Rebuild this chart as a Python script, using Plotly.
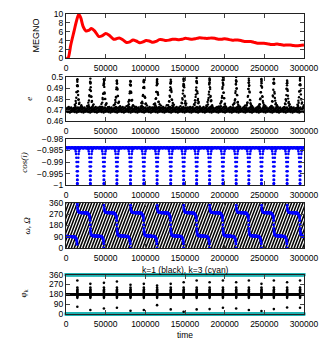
import plotly.graph_objects as go

# ---------------- data ----------------
x_ticks = [0, 50000, 100000, 150000, 200000, 250000, 300000]
x_ticklabels = ["0", "50000", "100000", "150000", "200000", "250000", "300000"]

megno_t = [0, 2500, 6000, 10000, 13500, 16000, 18500, 21500, 25000, 28500, 32000, 36000,
           41500, 46000, 50000, 54500, 60000, 63500, 67000, 71500, 76500, 80500, 84500,
           88500, 93000, 97000, 101000, 105000, 109500, 113500, 117500, 121500, 126000,
           130000, 134000, 138000, 142500, 146500, 150500, 154500, 159000, 163000, 167000,
           171000, 175500, 179500, 183500, 187500, 192000, 196000, 200000, 204000, 208500,
           212500, 216500, 220500, 225000, 229000, 233000, 237000, 241500, 245500, 249500,
           253500, 258000, 262000, 266000, 270000, 274500, 278500, 282500, 286500, 291000,
           295000, 300000]
megno_v = [0, 0, 3.0, 6.0, 8.6, 9.9, 9.2, 7.2, 6.2, 6.3, 6.7, 6.2,
           4.9, 5.1, 5.6, 5.2, 4.3, 4.4, 4.6, 4.2, 3.55, 3.7, 4.1,
           3.9, 3.5, 3.7, 4.0, 3.9, 3.6, 3.8, 4.2, 4.2, 4.0,
           4.1, 4.3, 4.3, 4.2, 4.3, 4.5, 4.4, 4.3, 4.4, 4.6,
           4.6, 4.5, 4.5, 4.6, 4.5, 4.3, 4.3, 4.4, 4.3, 4.1,
           4.1, 4.1, 4.0, 3.8, 3.8, 3.8, 3.6, 3.4, 3.4, 3.4,
           3.3, 3.1, 3.1, 3.2, 3.1, 2.95, 3.0, 3.0, 2.9, 2.85,
           2.9, 3.0]

# times of the resonance passages (spikes / dips / jumps)
event_t = [14300, 30700, 47800, 64200, 81300, 98100, 114800, 132000, 148300,
           164700, 181000, 197800, 214500, 230500, 246400, 262000, 278700, 295000]

# eccentricity
e_base_noise = [0.4702, 0.4688, 0.4715, 0.4694, 0.4721, 0.4683, 0.4706, 0.4729, 0.4691,
                0.4712, 0.4679, 0.4718, 0.4697, 0.4725, 0.4686, 0.4709, 0.4700]
e_peak = [0.496, 0.496, 0.496, 0.496, 0.496, 0.497, 0.497, 0.496, 0.497,
          0.497, 0.497, 0.497, 0.497, 0.496, 0.497, 0.497, 0.495, 0.497]
e_spike_dt = [-5000, -4000, -3200, -2600, -2100, -1700, -1300, -1000, -700, -450, -250, -100, 0,
              100, 250, 450, 700, 1000, 1300, 1700, 2100, 2600, 3200, 4000, 5000]
e_spike_f = [0.06, 0.09, 0.13, 0.18, 0.24, 0.31, 0.41, 0.52, 0.66, 0.80, 0.92, 0.98, 1.0,
             0.98, 0.92, 0.80, 0.66, 0.52, 0.41, 0.31, 0.24, 0.18, 0.13, 0.09, 0.06]

# cos(i)
cosi_base = [-0.9836, -0.9839, -0.9837, -0.9841, -0.9838, -0.9840, -0.9836, -0.9839]
cosi_dip_dt = [-3000, -2500, -2000, -1600, -1250, -1000, -800, -600, -450, -300, -180, -60,
               60, 180, 300, 450, 600, 800, 1000, 1250, 1600, 2000, 2500, 3000]
cosi_dip_f = [0.02, 0.05, 0.10, 0.17, 0.27, 0.38, 0.50, 0.63, 0.75, 0.86, 0.95, 1.0,
              1.0, 0.95, 0.86, 0.75, 0.63, 0.50, 0.38, 0.27, 0.17, 0.10, 0.05, 0.02]

# omega / Omega (blue = slow angle, black = fast circulating angle)
blue_level = [90, 280, 95, 280, 95, 280, 95, 280, 95, 280, 95, 280, 95, 280, 95, 280, 95, 280, 95]
blue_start_dt = [100, 300, 600, 1000, 1500, 2100]
blue_start_dv = [60, 40, 25, 15, 10, 7]
blue_end_dt = [2500, 1800, 1300, 900, 550, 300, 120]
blue_end_dv = [-6, -12, -18, -27, -40, -60, -95]
black_stripe_spacing = 3600
black_stripe_run = 22000

# resonant angles
phi1_level = [180.5, 179.2, 180.9, 179.6, 180.2, 179.0, 180.7, 179.8]
phi1_col_dt = [0, 150, -100, 60, 0, -60, 100, 0, 40]
phi1_col_dv = [62, 45, 35, 25, 15, -12, -22, -32, 8]
phi1_hi = [306, 276, 285, 297, 267, 276, 261, 276, 291, 306, 291, 306, 291, 306, 276, 306, 291, 306]
phi1_lo = [66, 36, 51, 57, 30, 36, 81, 42, 21, 42, 45, 57, 51, 36, 27, 45, 60, 57]
phi3_values = [0, 360]

T_END = 300000
STEP = 500

# ---------------- build the point sets ----------------
samples = list(range(0, T_END + 1, STEP))

e_t, e_v = [], []
for n, t in enumerate(samples):
    e_t.append(t)
    e_v.append(e_base_noise[n % len(e_base_noise)])
for k, tc in enumerate(event_t):
    for j, (dt, f) in enumerate(zip(e_spike_dt, e_spike_f)):
        base = e_base_noise[(k + j) % len(e_base_noise)]
        e_t.append(tc + dt)
        e_v.append(base + f * (e_peak[k] - 0.470))

c_t, c_v = [], []
for n, t in enumerate(samples):
    c_t.append(t)
    c_v.append(cosi_base[n % len(cosi_base)])
for tc in event_t:
    for dt, f in zip(cosi_dip_dt, cosi_dip_f):
        c_t.append(tc + dt)
        c_v.append(-0.9838 + f * (-1.0 - (-0.9838)))

# blue slow angle, segment by segment
seg_edges = [0] + event_t + [T_END]
b_t, b_v = [], []
for s in range(len(seg_edges) - 1):
    t0, t1 = seg_edges[s], seg_edges[s + 1]
    L = blue_level[s]
    if s > 0:
        for dt, dv in zip(blue_start_dt, blue_start_dv):
            b_t.append(t0 + dt)
            b_v.append((L + dv) % 360)
    a = t0 + (2500 if s > 0 else 0)
    b = t1 - (2900 if s < len(seg_edges) - 2 else 0)
    tt = a
    while tt <= b:
        frac = (tt - t0) / (t1 - t0)
        b_t.append(tt)
        b_v.append((L + 4 - 6 * frac) % 360)
        tt += 400
    if s < len(seg_edges) - 2:
        for dt, dv in zip(blue_end_dt, blue_end_dv):
            b_t.append(t1 - dt)
            b_v.append((L + dv) % 360)

# black fast angle: aliased stripes
w_t, w_v = [], []
start = -black_stripe_run
while start < T_END:
    w_t += [start, start + black_stripe_run, None]
    w_v += [0, 360, None]
    start += black_stripe_spacing

# phi_1 (black)
p_t, p_v = [], []
for n, t in enumerate(samples):
    p_t.append(t)
    p_v.append(phi1_level[n % len(phi1_level)])
for k, tc in enumerate(event_t):
    for dt, dv in zip(phi1_col_dt, phi1_col_dv):
        p_t.append(tc + dt)
        p_v.append(180 + dv)
    p_t += [tc, tc]
    p_v += [phi1_hi[k], phi1_lo[k]]

# phi_3 (cyan)
q_t, q_v = [], []
for val in phi3_values:
    for t in range(0, T_END + 1, 300):
        q_t.append(t)
        q_v.append(val)

# ---------------- figure ----------------
fig = go.Figure()
fig.add_trace(go.Scatter(x=megno_t, y=megno_v, mode="lines", line=dict(color="#ff0000", width=3, shape="spline", smoothing=0.8),
                         xaxis="x", yaxis="y"))
fig.add_trace(go.Scatter(x=e_t, y=e_v, mode="markers", marker=dict(color="black", size=2.4),
                         xaxis="x2", yaxis="y2"))
fig.add_trace(go.Scatter(x=c_t, y=c_v, mode="markers", marker=dict(color="#0000ff", size=2.6),
                         xaxis="x3", yaxis="y3"))
fig.add_trace(go.Scatter(x=w_t, y=w_v, mode="lines", line=dict(color="black", width=1.5),
                         xaxis="x4", yaxis="y4"))
fig.add_trace(go.Scatter(x=b_t, y=b_v, mode="markers", marker=dict(color="#0000ff", size=3),
                         xaxis="x4", yaxis="y4"))
fig.add_trace(go.Scatter(x=q_t, y=q_v, mode="markers", marker=dict(color="#22b4b4", size=3, symbol="square"),
                         cliponaxis=False, xaxis="x5", yaxis="y5"))
fig.add_trace(go.Scatter(x=p_t, y=p_v, mode="markers", marker=dict(color="black", size=2.6),
                         xaxis="x5", yaxis="y5"))

W, H = 327, 343
L_M, R_M, T_M, B_M = 66, 16, 9, 29
plot_h = H - T_M - B_M
plot_w = W - L_M - R_M


def dom(top_px, bot_px):
    return [(H - B_M - bot_px) / plot_h, (H - B_M - top_px) / plot_h]


panel_px = [(9, 54), (73, 118), (136, 183), (201, 247), (274, 314)]
y_specs = [
    dict(range=[0, 10], tickvals=[0, 2, 4, 6, 8, 10], ticktext=["0", "2", "4", "6", "8", "10"]),
    dict(range=[0.46, 0.5], tickvals=[0.46, 0.47, 0.48, 0.49, 0.5], ticktext=["0.46", "0.47", "0.48", "0.49", "0.5"]),
    dict(range=[-1, -0.98], tickvals=[-1, -0.995, -0.99, -0.985, -0.98],
         ticktext=["\u22121", "\u22120.995", "\u22120.99", "\u22120.985", "\u22120.98"]),
    dict(range=[0, 360], tickvals=[0, 90, 180, 270, 360], ticktext=["0", "90", "180", "270", "360"]),
    dict(range=[0, 360], tickvals=[0, 90, 180, 270, 360], ticktext=["0", "90", "180", "270", "360"]),
]

axis_common = dict(showline=True, linecolor="#222", linewidth=1, mirror="ticks", ticks="inside",
                   ticklen=4, tickcolor="#444", showgrid=False, zeroline=False,
                   tickfont=dict(size=8.5, color="black"))

layout = dict(width=W, height=H, autosize=False, showlegend=False,
              margin=dict(l=L_M, r=R_M, t=T_M, b=B_M, pad=0),
              plot_bgcolor="white", paper_bgcolor="white",
              font=dict(family="Liberation Sans, Arial, sans-serif", size=8.5, color="black"))

for i, ((tp, bp), ys) in enumerate(zip(panel_px, y_specs)):
    sfx = "" if i == 0 else str(i + 1)
    layout["xaxis" + sfx] = dict(axis_common, domain=[0, 1], range=[0, T_END], tickvals=x_ticks,
                                 ticktext=x_ticklabels, anchor="y" + sfx, ticklabelstandoff=2)
    layout["yaxis" + sfx] = dict(axis_common, domain=dom(tp, bp), anchor="x" + sfx, **ys)

fig.update_layout(**layout)


def px_x(p):
    return (p - L_M) / plot_w


def px_y(p):
    return (H - B_M - p) / plot_h


serif = "Liberation Serif, Times New Roman, serif"
annots = [
    dict(text="MEGNO", x=px_x(35), y=px_y(31), textangle=-90, font=dict(size=9)),
    dict(text="<i>e</i>", x=px_x(28), y=px_y(95), textangle=-90, font=dict(size=9, family=serif)),
    dict(text="<i>cos(i)</i>", x=px_x(22), y=px_y(160), textangle=-90, font=dict(size=9, family=serif)),
    dict(text="<i>\u03c9, \u03a9</i>", x=px_x(26), y=px_y(224), textangle=-90, font=dict(size=9, family=serif)),
    dict(text="\u03c6<sub>k</sub>", x=px_x(22), y=px_y(293), textangle=-90, font=dict(size=9, family=serif)),
    dict(text="k=1 (black), k=3 (cyan)", x=0.5, y=px_y(269), font=dict(size=8.5)),
    dict(text="time", x=0.5, y=px_y(335), font=dict(size=8.5)),
]
for a in annots:
    a.update(xref="paper", yref="paper", showarrow=False, xanchor="center", yanchor="middle")
fig.update_layout(annotations=annots)

fig.write_html("out.html", config={"displayModeBar": False},
               post_script="document.body.style.margin='0';document.body.style.padding='0';document.body.style.overflow='hidden';")
